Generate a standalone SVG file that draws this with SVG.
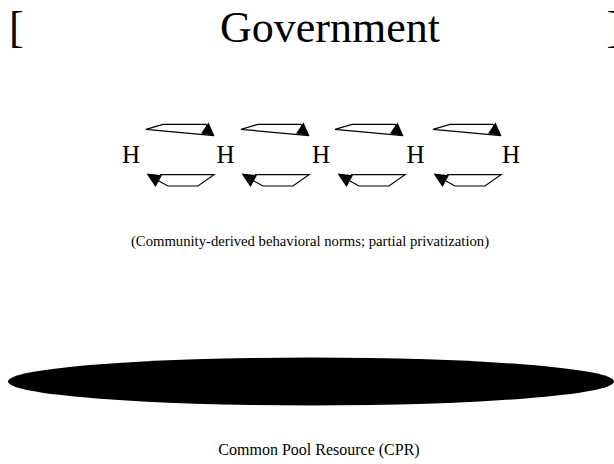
<svg xmlns="http://www.w3.org/2000/svg" xmlns:xlink="http://www.w3.org/1999/xlink" width="614" height="464" viewBox="0 0 614 464">
  <style>
    text { font-family: "Liberation Serif", "Times New Roman", serif; fill: #000; }
    .title { font-size: 44px; }
    .node { font-size: 25px; text-anchor: middle; }
    .note { font-size: 14.7px; text-anchor: middle; }
    .label { font-size: 16px; text-anchor: middle; }
    .flow { fill: none; stroke: #000; stroke-width: 1.2; stroke-linejoin: miter; }
    .head { fill: #000; stroke: none; }
  </style>
  <defs>
    <!-- forward exchange: loop drawn above, head at lower right -->
    <g id="fwd">
      <path class="flow" d="M214,135.7 L146,129.3 L163,124.3 L206,124.3 L211,132"/>
      <polygon class="head" points="214.5,136 201,133.5 208.5,122.5"/>
    </g>
    <!-- return exchange: loop drawn below, head at upper left -->
    <g id="back">
      <path class="flow" d="M157,180 L168,186 L198,186 L214,174.7 L160,174.7"/>
      <polygon class="head" points="146.5,173.5 162,175.2 155.5,187"/>
    </g>
  </defs>

  <rect width="614" height="464" fill="#fff"/>

  <!-- heading -->
  <g id="government">
    <text class="title" x="9" y="42">[</text>
    <text class="title" x="330" y="42" text-anchor="middle">Government</text>
    <text class="title" x="606.5" y="42">]</text>
  </g>

  <!-- households -->
  <g id="h1"><text class="node" x="131" y="163">H</text></g>
  <g id="h2"><text class="node" x="225.5" y="163">H</text></g>
  <g id="h3"><text class="node" x="321" y="163">H</text></g>
  <g id="h4"><text class="node" x="415.5" y="163">H</text></g>
  <g id="h5"><text class="node" x="511" y="163">H</text></g>

  <!-- exchanges between neighbouring households -->
  <g id="connectors">
    <use xlink:href="#fwd"/>
    <use xlink:href="#back"/>
    <use xlink:href="#fwd" transform="translate(95,0)"/>
    <use xlink:href="#back" transform="translate(95,0)"/>
    <use xlink:href="#fwd" transform="translate(189,0)"/>
    <use xlink:href="#back" transform="translate(191,0)"/>
    <use xlink:href="#fwd" transform="translate(287,0)"/>
    <use xlink:href="#back" transform="translate(287,0)"/>
  </g>

  <g id="norms">
    <text class="note" x="310" y="246">(Community-derived behavioral norms; partial privatization)</text>
  </g>

  <!-- the shared resource -->
  <g id="cpr">
    <ellipse cx="311" cy="381.5" rx="303" ry="24" fill="#000"/>
    <text class="label" x="319" y="455">Common Pool Resource (CPR)</text>
  </g>
</svg>
